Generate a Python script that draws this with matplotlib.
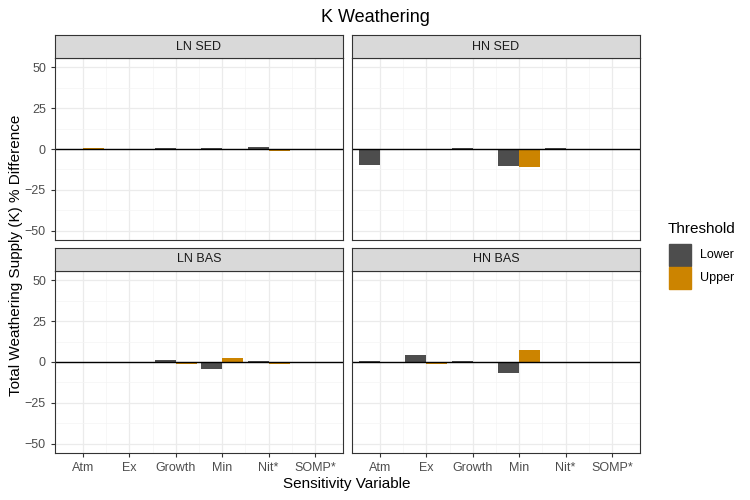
import numpy as np
import matplotlib.pyplot as plt

plt.rcParams['font.family'] = ['Liberation Sans', 'DejaVu Sans']

categories = ["Atm", "Ex", "Growth", "Min", "Nit*", "SOMP*"]
panels = ["LN SED", "HN SED", "LN BAS", "HN BAS"]
lower = {
    "LN SED": [0, 0, 0.5, 0.5, 1.5, 0],
    "HN SED": [-10, 0, 0.5, -10.5, 0.5, 0],
    "LN BAS": [0, 0, 1.5, -4, 0.8, 0],
    "HN BAS": [0.7, 4.5, 0.6, -7, 0, 0],
}
upper = {
    "LN SED": [0.5, 0, 0, 0, -1, 0],
    "HN SED": [0, 0, 0, -11, 0, 0],
    "LN BAS": [0, 0, -1, 2.5, -1.5, 0],
    "HN BAS": [0, -1.5, 0, 7.5, 0, 0],
}
c_lower = "#4d4d4d"
c_upper = "#cc8400"

fig = plt.figure(figsize=(7.5, 5), dpi=100)
fig.text(0.5, 0.965, "K Weathering", ha="center", va="center", fontsize=13)

W, H = 750, 500
boxes = [(55, 58), (352, 58), (55, 271), (352, 271)]
pw, ph, sh = 288, 182, 23
x = np.arange(len(categories))
for i, (name, (px, py)) in enumerate(zip(panels, boxes)):
    ax = fig.add_axes([px / W, 1 - (py + ph) / H, pw / W, ph / H])
    ax.bar(x - 0.225, lower[name], width=0.45, color=c_lower)
    ax.bar(x + 0.225, upper[name], width=0.45, color=c_upper)
    ax.axhline(0, color="black", lw=1)
    ax.set_xlim(-0.6, 5.6)
    ax.set_ylim(-55.5, 55.5)
    ax.set_yticks([-50, -25, 0, 25, 50])
    ax.set_yticks([-37.5, -12.5, 12.5, 37.5], minor=True)
    ax.set_xticks(x)
    ax.set_xticks(x[:-1] + 0.5, minor=True)
    ax.grid(True, which="major", color="#ebebeb", lw=0.9)
    ax.grid(True, which="minor", color="#f4f4f4", lw=0.5)
    ax.set_axisbelow(True)
    ax.tick_params(which="minor", length=0)
    ax.tick_params(which="major", length=3, color="#333333", labelsize=9, labelcolor="#4d4d4d")
    if i % 2 == 1:
        ax.set_yticklabels([])
        ax.tick_params(axis="y", length=0)
    if i < 2:
        ax.set_xticklabels([])
        ax.tick_params(axis="x", length=0)
    else:
        ax.set_xticklabels(categories)
    for s in ax.spines.values():
        s.set_color("#333333")
    sax = fig.add_axes([px / W, 1 - py / H, pw / W, sh / H])
    sax.set_facecolor("#d9d9d9")
    sax.set_xticks([]); sax.set_yticks([])
    for s in sax.spines.values():
        s.set_color("#333333")
    sax.text(0.5, 0.5, name, ha="center", va="center", fontsize=9, color="#1a1a1a")

fig.text(347 / W, 1 - 484 / H, "Sensitivity Variable", ha="center", va="center", fontsize=11)
fig.text(16 / W, 1 - 255 / H, "Total Weathering Supply (K) % Difference", ha="center", va="center",
         rotation=90, fontsize=11)

fig.text(668 / W, 1 - 229 / H, "Threshold", ha="left", va="center", fontsize=11)
for lab, col, yy in [("Lower", c_lower, 255), ("Upper", c_upper, 278)]:
    fig.patches.append(plt.Rectangle((669 / W, 1 - (yy + 11) / H), 22 / W, 22 / H,
                                     transform=fig.transFigure, color=col))
    fig.text(700 / W, 1 - yy / H, lab, ha="left", va="center", fontsize=9)

fig.savefig("out.png")
